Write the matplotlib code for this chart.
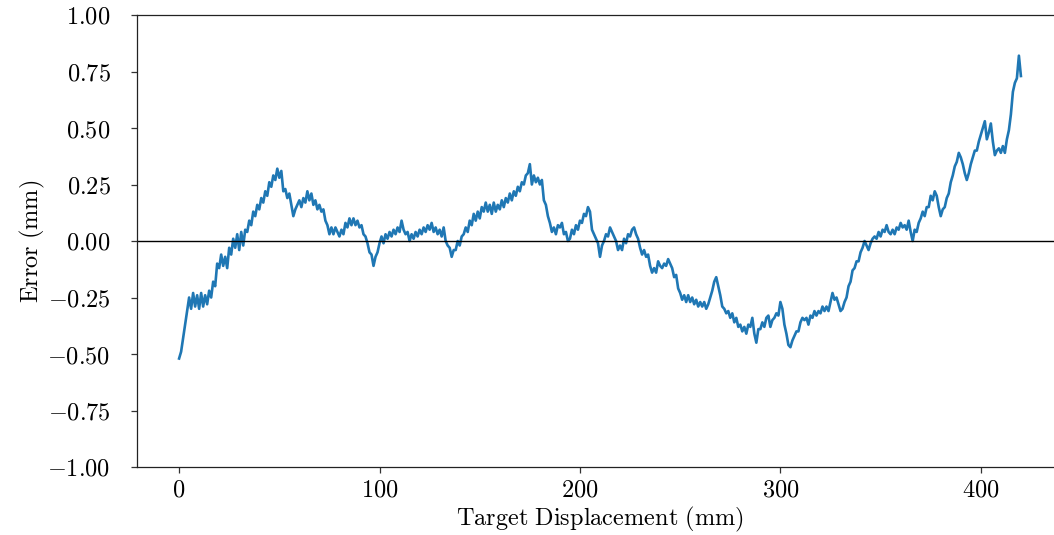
import numpy as np
import matplotlib
matplotlib.use("Agg")
import matplotlib.pyplot as plt

plt.rcParams['mathtext.fontset'] = 'cm'
plt.rcParams['font.family'] = 'serif'

# Target displacement (mm), 1 mm steps from 0 to 420
displacement = np.arange(0, 421)

# Error (mm), one value per mm
error = [
    -0.52, -0.49, -0.43, -0.37, -0.31, -0.25, -0.30, -0.23, -0.29, -0.24,
    -0.30, -0.23, -0.29, -0.24, -0.28, -0.22, -0.25, -0.18, -0.20, -0.10,
    -0.12, -0.06, -0.11, -0.07, -0.12, -0.03, -0.06, 0.01, -0.03, 0.03,
    -0.04, 0.04, -0.02, 0.05, 0.04, 0.09, 0.07, 0.13, 0.11, 0.16,
    0.14, 0.19, 0.17, 0.22, 0.20, 0.26, 0.24, 0.29, 0.27, 0.32,
    0.28, 0.31, 0.22, 0.23, 0.19, 0.21, 0.16, 0.11, 0.14, 0.16,
    0.18, 0.15, 0.19, 0.17, 0.22, 0.18, 0.21, 0.16, 0.18, 0.14,
    0.16, 0.13, 0.14, 0.09, 0.07, 0.03, 0.06, 0.03, 0.06, 0.04,
    0.02, 0.05, 0.03, 0.08, 0.06, 0.10, 0.07, 0.10, 0.07, 0.09,
    0.06, 0.07, 0.03, 0.02, -0.01, -0.05, -0.06, -0.11, -0.07, -0.05,
    -0.01, 0.02, -0.01, 0.03, 0.01, 0.04, 0.02, 0.05, 0.03, 0.06,
    0.04, 0.09, 0.05, 0.03, 0.04, 0.00, 0.03, 0.01, 0.04, 0.02,
    0.05, 0.03, 0.06, 0.04, 0.07, 0.05, 0.08, 0.04, 0.06, 0.03,
    0.05, 0.02, 0.06, 0.00, -0.02, -0.03, -0.07, -0.04, -0.04, 0.00,
    -0.02, 0.02, 0.03, 0.06, 0.04, 0.09, 0.07, 0.12, 0.09, 0.13,
    0.10, 0.15, 0.13, 0.17, 0.13, 0.16, 0.12, 0.17, 0.13, 0.16,
    0.14, 0.18, 0.15, 0.19, 0.17, 0.21, 0.18, 0.22, 0.20, 0.24,
    0.22, 0.26, 0.25, 0.29, 0.30, 0.34, 0.25, 0.29, 0.26, 0.28,
    0.25, 0.27, 0.18, 0.16, 0.11, 0.08, 0.04, 0.06, 0.03, 0.07,
    0.06, 0.08, 0.03, 0.04, 0.00, 0.01, 0.05, 0.03, 0.07, 0.05,
    0.09, 0.08, 0.12, 0.11, 0.15, 0.13, 0.05, 0.03, 0.01, -0.01,
    -0.07, -0.02, 0.00, 0.03, 0.02, 0.06, 0.04, 0.02, 0.00, -0.04,
    -0.02, -0.04, 0.01, -0.01, 0.03, 0.02, 0.05, 0.06, 0.03, 0.01,
    -0.03, -0.06, -0.04, -0.07, -0.06, -0.11, -0.14, -0.12, -0.14, -0.09,
    -0.11, -0.12, -0.10, -0.11, -0.08, -0.10, -0.12, -0.16, -0.15, -0.21,
    -0.23, -0.26, -0.24, -0.27, -0.24, -0.27, -0.25, -0.28, -0.26, -0.29,
    -0.27, -0.29, -0.27, -0.30, -0.28, -0.25, -0.22, -0.18, -0.16, -0.20,
    -0.24, -0.29, -0.30, -0.32, -0.31, -0.34, -0.32, -0.36, -0.34, -0.38,
    -0.37, -0.40, -0.38, -0.41, -0.37, -0.38, -0.34, -0.41, -0.45, -0.39,
    -0.39, -0.36, -0.38, -0.34, -0.33, -0.38, -0.35, -0.34, -0.32, -0.33,
    -0.27, -0.30, -0.37, -0.41, -0.46, -0.47, -0.44, -0.42, -0.40, -0.40,
    -0.36, -0.34, -0.35, -0.34, -0.37, -0.33, -0.34, -0.31, -0.33, -0.31,
    -0.32, -0.29, -0.31, -0.29, -0.31, -0.27, -0.23, -0.26, -0.25, -0.28,
    -0.31, -0.30, -0.27, -0.25, -0.20, -0.18, -0.13, -0.12, -0.09, -0.09,
    -0.05, -0.03, 0.00, -0.02, -0.04, -0.01, 0.01, 0.02, 0.01, 0.04,
    0.02, 0.05, 0.04, 0.07, 0.04, 0.03, 0.05, 0.03, 0.06, 0.05,
    0.08, 0.06, 0.07, 0.05, 0.09, 0.04, 0.00, 0.05, 0.04, 0.08,
    0.10, 0.13, 0.11, 0.15, 0.15, 0.20, 0.18, 0.22, 0.20, 0.15,
    0.11, 0.14, 0.15, 0.19, 0.21, 0.26, 0.29, 0.33, 0.35, 0.39,
    0.37, 0.34, 0.30, 0.27, 0.30, 0.34, 0.37, 0.40, 0.40, 0.44,
    0.47, 0.50, 0.53, 0.45, 0.48, 0.52, 0.44, 0.38, 0.40, 0.41,
    0.39, 0.42, 0.39, 0.45, 0.49, 0.56, 0.66, 0.70, 0.72, 0.82,
    0.73,
]

xticks = [0, 100, 200, 300, 400]
xtick_labels = ['$0$', '$100$', '$200$', '$300$', '$400$']
yticks = [-1.00, -0.75, -0.50, -0.25, 0.00, 0.25, 0.50, 0.75, 1.00]
ytick_labels = ['$-1.00$', '$-0.75$', '$-0.50$', '$-0.25$', '$0.00$',
                '$0.25$', '$0.50$', '$0.75$', '$1.00$']

fig = plt.figure(figsize=(10.54, 5.35), dpi=100)
ax = fig.add_axes([137/1054, 1 - 467/535, (1063 - 137)/1054, (467 - 15)/535])

ax.plot(displacement, error, color='#1f77b4', linewidth=1.9)
ax.axhline(0, color='black', linewidth=1.0)

ax.set_ylim(-1, 1)
ax.set_xticks(xticks, labels=xtick_labels)
ax.set_yticks(yticks, labels=ytick_labels)
ax.tick_params(axis='both', labelsize=17.5, length=4, width=0.9, color='#333333')
ax.tick_params(axis='y', pad=15)
ax.tick_params(axis='x', pad=4)

ax.set_xlabel(r'$\mathrm{Target\ Displacement\ (mm)}$', fontsize=17.5, labelpad=3)
ax.set_ylabel(r'$\mathrm{Error\ (mm)}$', fontsize=17.5, labelpad=0)

for s in ['left', 'top', 'bottom']:
    ax.spines[s].set_color('#222222')
    ax.spines[s].set_linewidth(0.9)
ax.spines['right'].set_visible(False)

fig.savefig('out.png', dpi=100)
